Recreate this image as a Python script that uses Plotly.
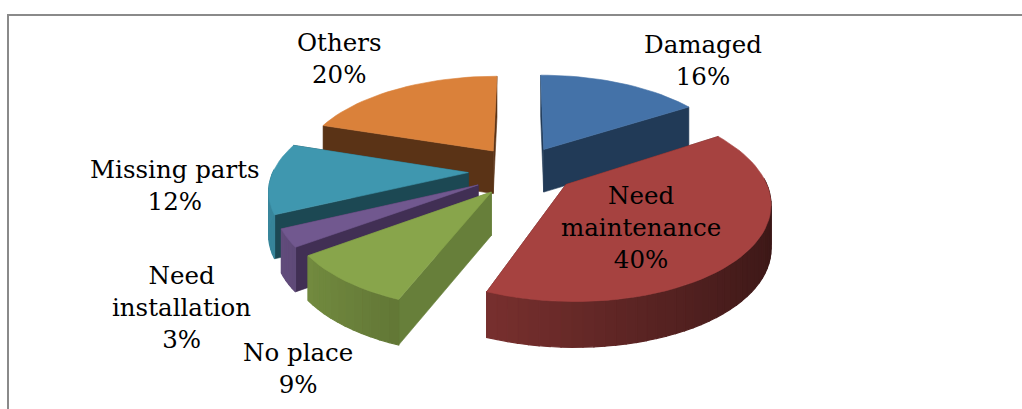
import math
import plotly.graph_objects as go

CATEGORIES = ["Damaged", "Need maintenance", "No place", "Need installation", "Missing parts", "Others"]
PERCENTS = [16, 40, 9, 3, 12, 20]
LABEL_TEXTS = ["Damaged<br>16%", "Need<br>maintenance<br>40%", "No place<br>9%",
               "Need<br>installation<br>3%", "Missing parts<br>12%", "Others<br>20%"]
LABEL_X = [703, 641, 298, 181, 175, 339]
LABEL_Y = [60, 227, 368, 307, 185, 58]
TOP_COLORS = ["#4472A8", "#A64240", "#88A54B", "#71588F", "#3F97AF", "#DA813A"]
RADIAL_WALL = ["#213A57", "#5A2422", "#677F3A", "#412F54", "#1C4853", "#5A3316"]
EXPLODE = [0.25, 0.29, 0.24, 0.25, 0.27, 0.25]
DROP = [0, -2, 5, 4, 2, 0]
DRAW_ORDER = [0, 5, 4, 3, 2, 1]

CX, CY = 521, 169
RX, RY = 195, 92
KP = 0.16
H = 43
FONT = "DejaVu Serif"
FONT_SIZE = 24.5


def project(theta, r, mid, e, drop, down=0.0):
    X = r * math.sin(theta) + e * math.sin(mid)
    Y = r * math.cos(theta) + e * math.cos(mid)
    s = 1 / (1 + KP * Y)
    return CX + RX * X * s, CY + drop - RY * Y * s + down * H * s ** 0.3


def shade(hex_color, f):
    rgb = [int(hex_color[i:i + 2], 16) for i in (1, 3, 5)]
    return "rgb(%d,%d,%d)" % tuple(round(c * f) for c in rgb)


def add_poly(fig, pts, color, lw=0.6):
    xs = [p[0] for p in pts] + [pts[0][0]]
    ys = [p[1] for p in pts] + [pts[0][1]]
    fig.add_trace(go.Scatter(x=xs, y=ys, mode="lines", fill="toself", fillcolor=color,
                             line=dict(color=color, width=lw), hoverinfo="skip", showlegend=False))


fig = go.Figure()
total = sum(PERCENTS)
starts = []
acc = 0
for v in PERCENTS:
    starts.append(acc)
    acc += v

for i in DRAW_ORDER:
    a0 = 2 * math.pi * starts[i] / total
    a1 = 2 * math.pi * (starts[i] + PERCENTS[i]) / total
    mid = (a0 + a1) / 2
    e = EXPLODE[i]
    d = DROP[i]
    n = max(5, int((a1 - a0) * 22))
    thetas = [a0 + (a1 - a0) * k / n for k in range(n + 1)]

    walls = (a0, a1) if math.sin(mid) > 0 else (a1, a0)
    for a in walls:
        add_poly(fig, [project(a, 0, mid, e, d), project(a, 1, mid, e, d),
                       project(a, 1, mid, e, d, 1), project(a, 0, mid, e, d, 1)], RADIAL_WALL[i])

    for t0, t1 in zip(thetas[:-1], thetas[1:]):
        m = (t0 + t1) / 2
        if math.cos(m) > 0.05:
            continue
        f = 0.62 - 0.27 * math.sin(m)
        add_poly(fig, [project(t0, 1, mid, e, d), project(t1, 1, mid, e, d),
                       project(t1, 1, mid, e, d, 1), project(t0, 1, mid, e, d, 1)],
                 shade(TOP_COLORS[i], f), lw=1.2)

    top = [project(a0, 0, mid, e, d)] + [project(t, 1, mid, e, d) for t in thetas]
    add_poly(fig, top, TOP_COLORS[i])

for txt, x, y in zip(LABEL_TEXTS, LABEL_X, LABEL_Y):
    fig.add_annotation(x=x, y=y, text=txt, showarrow=False, align="center",
                       font=dict(family=FONT, size=FONT_SIZE, color="#000000"))

fig.update_layout(
    width=1022, height=409, margin=dict(l=0, r=0, t=0, b=0),
    paper_bgcolor="white", plot_bgcolor="white", showlegend=False,
    xaxis=dict(range=[0, 1022], visible=False, fixedrange=True),
    yaxis=dict(range=[409, 0], visible=False, fixedrange=True),
    shapes=[dict(type="rect", xref="x", yref="y", x0=8, y0=15, x1=1060, y1=440,
                 line=dict(color="#8A8A8A", width=2), layer="below")],
)
fig.write_html("out.html", config={"displayModeBar": False},
               post_script="document.body.style.margin='0';document.body.style.overflow='hidden';")
